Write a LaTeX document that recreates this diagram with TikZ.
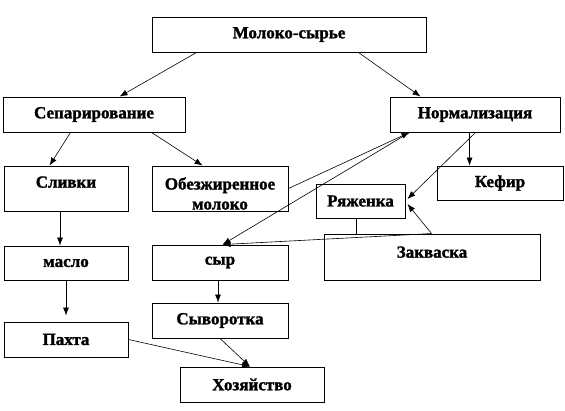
\documentclass[tikz,border=0pt]{standalone}
\usepackage{fontspec}
\setmainfont{Liberation Serif}[BoldFeatures={FakeBold=1.5}]
\usetikzlibrary{arrows.meta,calc}
\begin{document}
\begin{tikzpicture}[x=1pt,y=-1pt,
  box/.style={draw,line width=0.9pt,inner sep=0pt,font=\fontsize{17}{19}\selectfont\bfseries},
  txt/.style={inner sep=0pt,align=center,font=\fontsize{17}{20}\selectfont\bfseries},
  arr/.style={line width=0.6pt,-{Latex[length=8pt,width=6pt]}},
  ln/.style={line width=0.6pt}]
\useasboundingbox (0,0) rectangle (565,410);
\node[box,minimum width=274,minimum height=35] (molo) at (289,34.5) {Молоко-сырье};
\node[box,minimum width=182,minimum height=35] (sep) at (94,114.5) {Сепарирование};
\node[box,minimum width=170,minimum height=35] (norm) at (475,114.5) {Нормализация};
\node[box,minimum width=124,minimum height=45] (sliv) at (66,188.5) {\raisebox{13pt}{Сливки}};
\node[box,minimum width=136,minimum height=45] (obez) at (220,188.5) {};
\node[txt] (obezt) at ([yshift=-5]obez.center) {Обезжиренное\\молоко};
\node[box,minimum width=89,minimum height=34] (ryazh) at (360.5,201) {Ряженка};
\node[box,minimum width=126,minimum height=34] (kefir) at (500,183) {Кефир};
\node[box,minimum width=124,minimum height=34] (maslo) at (66,263) {масло};
\node[box,minimum width=136,minimum height=35] (syr) at (220,262.5) {сыр};
\node[box,minimum width=216,minimum height=46] (zakv) at (432,257) {\raisebox{10pt}{Закваска}};
\node[box,minimum width=136,minimum height=35] (syv) at (220,320.5) {Сыворотка};
\node[box,minimum width=124,minimum height=35] (pakh) at (66,339.5) {Пахта};
\node[box,minimum width=144,minimum height=35] (khoz) at (252,384.5) {Хозяйство};

\draw[arr] ([xshift=45]molo.south west) -- ([xshift=117]sep.north west);
\draw[arr] ([xshift=-68]molo.south east) -- ([xshift=31]norm.north west);
\draw[arr] ([xshift=68]sep.south west) -- ([xshift=46]sliv.north west);
\draw[arr] ([xshift=149]sep.south west) -- ([xshift=51]obez.north west);
\draw[arr] (obez.east) -- ([xshift=20]norm.south west);
\draw[arr] ([xshift=20]norm.south west) -- ([xshift=71]syr.north west);
\draw[arr] ([xshift=80]norm.south west) -- ([xshift=33]kefir.north west);
\draw[arr] ([xshift=86]norm.south west) -- ([xshift=2,yshift=2]ryazh.east);
\draw[ln] ([xshift=41]ryazh.south west) -- ([xshift=33]zakv.north west);
\draw[arr] ([xshift=108]zakv.north west) -- ([xshift=2,yshift=-3]ryazh.east);
\draw[arr] ([xshift=108]zakv.north west) -- ([xshift=71]syr.north west);
\draw[arr] ([xshift=-6]sliv.south) -- ([xshift=-6]maslo.north);
\draw[arr] (maslo.south) -- ([yshift=6]pakh.north);
\draw[arr] ([xshift=-2]syr.south) -- ([xshift=-2]syv.north);
\draw[arr] (pakh.east) -- ([xshift=-2]khoz.north);
\draw[arr] (syv.south) -- ([xshift=-2]khoz.north);
\end{tikzpicture}
\end{document}
